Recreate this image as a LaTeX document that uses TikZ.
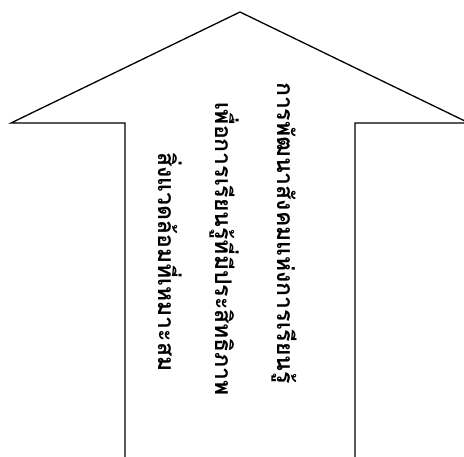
\documentclass[tikz,border=0pt]{standalone}
\usepackage{fontspec}
\newfontfamily\thaifont[Script=Thai]{Loma}
\tikzset{
  arrowline/.style={draw=black,line width=1.3pt},
  thailine/.style={rotate=-90,inner sep=0pt,font=\thaifont\bfseries\fontsize{23pt}{28pt}\selectfont}
}
\begin{document}
\begin{tikzpicture}[x=1pt,y=-1pt]
  \useasboundingbox (0,0) rectangle (464,456);
  \clip (0,0) rectangle (464,456);
  % arrow outline, open at the bottom
  \draw[arrowline] (125,460) -- (125,123) -- (11,123) -- (240,12) -- (469,123) -- (355,123) -- (355,460);
  % three lines of text, read from top to bottom
  \node[thailine] (first) at (284,233) {การพัฒนาสังคมแห่งการเรียนรู้};
  \node[thailine] (second) at (224,249) {เพื่อการเรียนรู้ที่มีประสิทธิภาพ};
  \node[thailine] (third) at (170,262) {สิ่งแวดล้อมที่เหมาะสม};
\end{tikzpicture}
\end{document}
